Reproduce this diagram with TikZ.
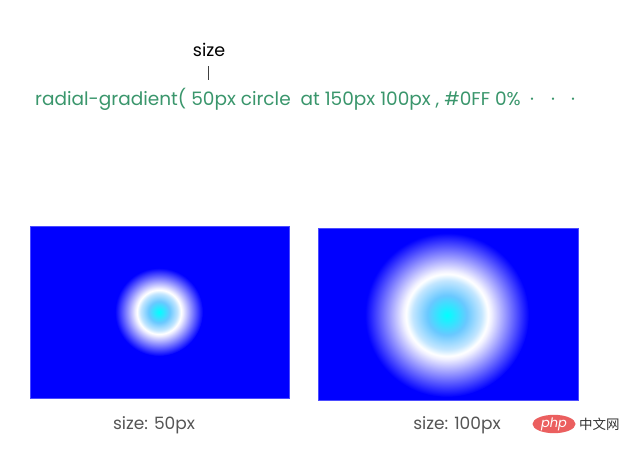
\documentclass[tikz,border=0pt]{standalone}
\usepackage{fontspec}
\usetikzlibrary{shapes.geometric}
\setmainfont{Poppins}
\newfontfamily\cjk{Noto Sans CJK SC}
\definecolor{codegreen}{RGB}{58,150,108}
\definecolor{labelgray}{RGB}{85,85,85}
\definecolor{ringsky}{RGB}{105,200,255}
\definecolor{ringpale}{RGB}{195,230,255}
\definecolor{phpred}{RGB}{235,95,95}
\pgfdeclareradialshading{glow}{\pgfpoint{0bp}{0bp}}{%
  color(0bp)=(cyan);
  color(6bp)=(ringsky);
  color(10.5bp)=(ringpale);
  color(12.5bp)=(white);
  color(13.5bp)=(white!94!blue);
  color(25bp)=(blue);
  color(50bp)=(blue)}
\tikzset{
  panel/.style={fill=blue, draw=blue!70!white, line width=0.6pt},
  codetext/.style={text=codegreen, font=\fontsize{18.5}{22}\selectfont, inner sep=0pt, anchor=base west},
  caption/.style={text=labelgray, font=\fontsize{17}{20}\selectfont, inner sep=0pt},
}
\begin{document}
\begin{tikzpicture}[x=1pt,y=-1pt]
\useasboundingbox (0,0) rectangle (633,458);
\fill[white] (0,0) rectangle (633,458);
% header
\node[inner sep=0pt, font=\fontsize{17.5}{20}\selectfont] (sz) at (209,50) {size};
\coordinate (tickTop) at (208,66);
\coordinate (tickBot) at (208,80);
\draw[line width=0.7pt, black!75] (tickTop) -- (tickBot);
\node[codetext] (code) at (35,105) {radial-gradient( 50px circle\ \ at 150px 100px , \#0FF 0\%};
\node[codetext] (d1) at (530,105) {·};
\node[codetext] (d2) at (551,105) {·};
\node[codetext] (d3) at (571,105) {·};
% left panel
\draw[panel] (30,226) rectangle (289,398);
\shade[shading=glow] (159,312) circle (44);
% right panel
\draw[panel] (318,228) rectangle (578,400);
\shade[shading=glow] (447,315) circle (82);
% captions
\node[caption] (c1) at (154,425) {size: 50px};
\node[caption] (c2) at (457,425) {size: 100px};
% watermark
\node[ellipse, fill=phpred, minimum width=43pt, minimum height=16pt, inner sep=0pt, text=white, font=\itshape\fontsize{13}{13}\selectfont] (php) at (554,424) {php};
\node[inner sep=0pt, font=\cjk\fontsize{13.5}{14}\selectfont, text=black!80, anchor=west] (zw) at (579,424) {中文网};
\end{tikzpicture}
\end{document}
